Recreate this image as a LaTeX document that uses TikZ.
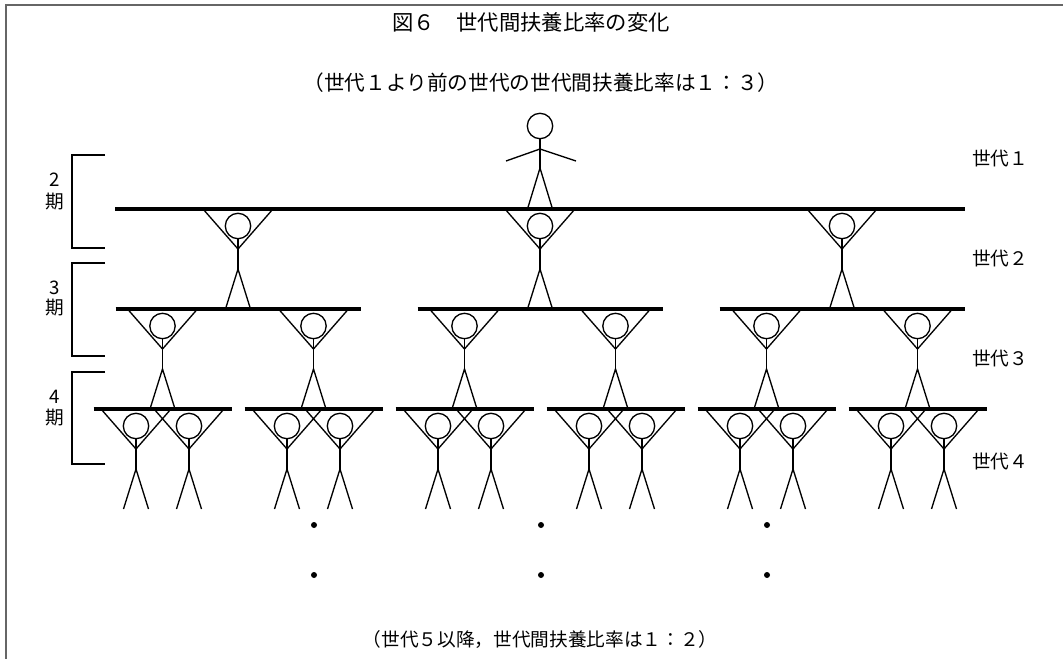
\documentclass[tikz,border=0pt]{standalone}
\usepackage{fontspec}
\newfontfamily\jp{Noto Sans CJK JP}
\begin{document}
\begin{tikzpicture}[x=0.75pt,y=-0.75pt,
  stick/.style={line width=1pt,line join=miter},
  beam/.style={line width=2.4pt},
  brace/.style={line width=0.9pt},
  frameline/.style={line width=1.2pt,draw=black!60},
  lbl/.style={font=\jp\fontsize{14}{16}\selectfont,inner sep=0pt},
  note/.style={font=\jp\fontsize{15.5}{18}\selectfont,inner sep=0pt},
  hang/.pic={
    \draw[stick] (-35,0) -- (0,40) -- (35,0);
    \draw[stick] (0,17) circle[radius=12.7];
    \draw[stick] (0,29.7) -- (0,60);
    \draw[stick] (-12.5,100) -- (0,60) -- (12.5,100);
  },
  stand/.pic={
    \draw[stick] (0,0) circle[radius=12.7];
    \draw[stick] (0,12.7) -- (0,42);
    \draw[stick] (-34,35) -- (0,23) -- (36,35);
    \draw[stick] (-12.5,83) -- (0,42) -- (12.5,83);
  }]
\useasboundingbox (0,0) rectangle (1063,659);
% frame
\draw[frameline] (6,659) -- (6,5) -- (1063,5);

% titles
\node[font=\jp\fontsize{16}{18}\selectfont,inner sep=0pt] (title) at (531,22) {図６　世代間扶養比率の変化};
\node[note] (sub) at (541,83) {（世代１より前の世代の世代間扶養比率は１：３）};
\node[note,font=\jp\fontsize{14}{16}\selectfont] (foot) at (540,640) {（世代５以降，世代間扶養比率は１：２）};

% generation 1
\pic at (540,126) {stand};
\draw[beam] (115,209) -- (965,209);

% generations 2 to 4
\foreach \a in {238,540,842}{
  \pic at (\a,209) {hang};
  \draw[beam] (\a-122.5,309) -- (\a+122.5,309);
  \foreach \b in {-75.5,75.5}{
    \pic at (\a+\b,309) {hang};
    \draw[beam] (\a+\b-69,409) -- (\a+\b+69,409);
    \foreach \c in {-26.5,26.5}{
      \pic at (\a+\b+\c,409) {hang};
    }
  }
}

% continuation dots
\foreach \x in {314,541,767}{
  \fill (\x,525) circle[radius=3];
  \fill (\x,575) circle[radius=3];
}

% period brackets
\draw[brace] (105,155) -- (72,155) -- (72,248) -- (105,248);
\draw[brace] (105,263) -- (72,263) -- (72,356) -- (105,356);
\draw[brace] (105,372) -- (72,372) -- (72,464) -- (105,464);
\node[lbl] (p2) at (55,180) {2};
\node[lbl] (k2) at (55,202) {期};
\node[lbl] (p3) at (55,288) {3};
\node[lbl] (k3) at (55,308) {期};
\node[lbl] (p4) at (55,397) {4};
\node[lbl] (k4) at (55,418) {期};

% generation labels
\node[lbl] (g1) at (1000,158) {世代１};
\node[lbl] (g2) at (1000,258) {世代２};
\node[lbl] (g3) at (1000,358) {世代３};
\node[lbl] (g4) at (1000,461) {世代４};
\end{tikzpicture}
\end{document}
